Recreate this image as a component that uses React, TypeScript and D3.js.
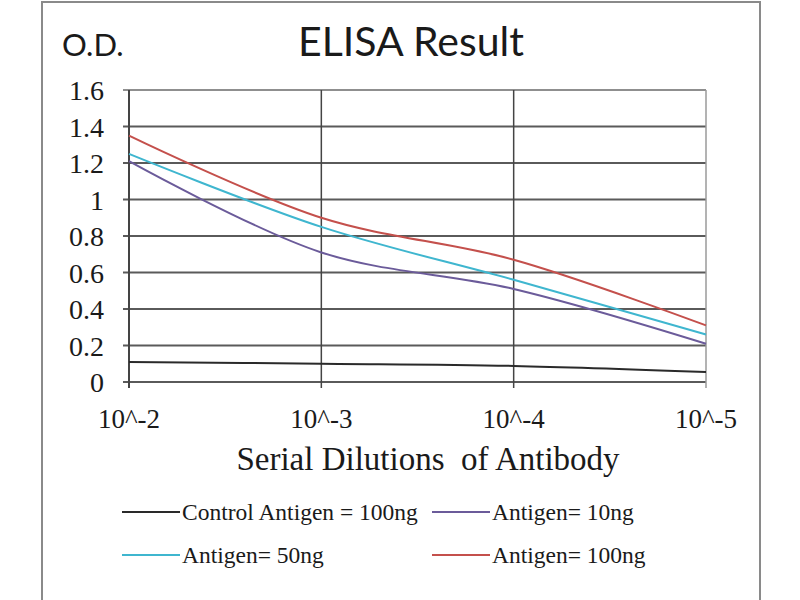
import { useEffect, useRef } from 'react'
import * as d3 from 'd3'

// dilution steps on the x axis
const dilutions = ['10^-2', '10^-3', '10^-4', '10^-5']
const yTicks = [0, 0.2, 0.4, 0.6, 0.8, 1, 1.2, 1.4, 1.6]

// O.D. readings per series
const control100 = [0.11, 0.1, 0.088, 0.055]
const antigen10 = [1.21, 0.71, 0.51, 0.21]
const antigen50 = [1.25, 0.85, 0.56, 0.26]
const antigen100 = [1.35, 0.9, 0.67, 0.31]

const seriesNames = ['Control Antigen = 100ng', 'Antigen= 10ng', 'Antigen= 50ng', 'Antigen= 100ng']
const seriesColors = ['#2a2a2a', '#6b5b9a', '#3fb6cf', '#c4504c']

const W = 800
const H = 600
const serif = '"Liberation Serif", "Times New Roman", serif'
const sans = 'Lato, "Open Sans", sans-serif'

export default function App() {
  const ref = useRef<SVGSVGElement | null>(null)

  useEffect(() => {
    if (!ref.current) {return}
    const svg = d3.select(ref.current)
    svg.selectAll('*').remove()

    const plot = { left: 129, right: 706, top: 90, bottom: 382 }

    const x = d3.scalePoint<string>().domain(dilutions).range([plot.left, plot.right])
    const y = d3.scaleLinear().domain([0, 1.6]).range([plot.bottom, plot.top])

    svg.append('rect').attr('width', W).attr('height', H).attr('fill', '#fff')
    // outer frame
    svg.append('rect')
      .attr('x', 42).attr('y', 2).attr('width', 718).attr('height', 610)
      .attr('fill', 'none').attr('stroke', '#8a8a8a').attr('stroke-width', 2)

    svg.append('text')
      .attr('x', 411).attr('y', 56).attr('text-anchor', 'middle')
      .style('font-family', sans).style('font-size', '41px').attr('fill', '#1a1a1a')
      .text('ELISA Result')
    svg.append('text')
      .attr('x', 62).attr('y', 56)
      .style('font-family', sans).style('font-size', '31px').attr('fill', '#1a1a1a')
      .text('O.D.')

    // horizontal gridlines
    svg.append('g')
      .selectAll('line')
      .data(yTicks)
      .join('line')
      .attr('x1', plot.left - 6).attr('x2', plot.right)
      .attr('y1', (d) => y(d)).attr('y2', (d) => y(d))
      .attr('stroke', (d) => (d === 1.6 ? '#8f8f8f' : '#5a5a5a'))
      .attr('stroke-width', 2)

    // vertical gridlines
    svg.append('g')
      .selectAll('line')
      .data(dilutions)
      .join('line')
      .attr('x1', (d) => x(d) ?? 0).attr('x2', (d) => x(d) ?? 0)
      .attr('y1', plot.top).attr('y2', plot.bottom + 6)
      .attr('stroke', (d, i) => (i === dilutions.length - 1 ? '#9a9a9a' : '#444'))
      .attr('stroke-width', (d, i) => (i === 0 ? 2 : 1.5))

    svg.append('g')
      .selectAll('text')
      .data(yTicks)
      .join('text')
      .attr('x', 104).attr('y', (d) => y(d) + 10)
      .attr('text-anchor', 'end')
      .style('font-family', serif).style('font-size', '28px').attr('fill', '#1a1a1a')
      .text((d) => String(d))

    svg.append('g')
      .selectAll('text')
      .data(dilutions)
      .join('text')
      .attr('x', (d) => x(d) ?? 0).attr('y', 428)
      .attr('text-anchor', 'middle')
      .style('font-family', serif).style('font-size', '27px').attr('fill', '#1a1a1a')
      .text((d) => d)

    svg.append('text')
      .attr('x', 428).attr('y', 470).attr('text-anchor', 'middle')
      .style('font-family', serif).style('font-size', '33px').attr('fill', '#1a1a1a')
      .attr('xml:space', 'preserve')
      .text('Serial Dilutions  of Antibody')

    const line = d3
      .line<number>()
      .x((d, i) => x(dilutions[i]) ?? 0)
      .y((d) => y(d))
      .curve(d3.curveCatmullRom.alpha(0.5))

    const allSeries = [control100, antigen10, antigen50, antigen100]
    svg.append('g')
      .selectAll('path')
      .data(allSeries)
      .join('path')
      .attr('fill', 'none')
      .attr('stroke', (d, i) => seriesColors[i])
      .attr('stroke-width', 2)
      .attr('d', (d) => line(d))

    // legend, two by two
    const legendPos = [
      { lx: 122, ly: 512 },
      { lx: 432, ly: 512 },
      { lx: 122, ly: 555 },
      { lx: 432, ly: 555 },
    ]
    const legend = svg.append('g')
      .selectAll('g')
      .data(seriesNames)
      .join('g')
      .attr('transform', (d, i) => `translate(${legendPos[i].lx},${legendPos[i].ly})`)
    legend.append('line')
      .attr('x1', 0).attr('x2', 58)
      .attr('stroke', (d, i) => seriesColors[i]).attr('stroke-width', 2)
    legend.append('text')
      .attr('x', 60).attr('y', 8)
      .style('font-family', serif).style('font-size', '23.5px').attr('fill', '#1a1a1a')
      .text((d) => d)
  }, [])

  return (
    <svg
      ref={ref}
      width={W}
      height={H}
      style={{ position: 'absolute', left: 0, top: 0, display: 'block' }}
    />
  )
}
